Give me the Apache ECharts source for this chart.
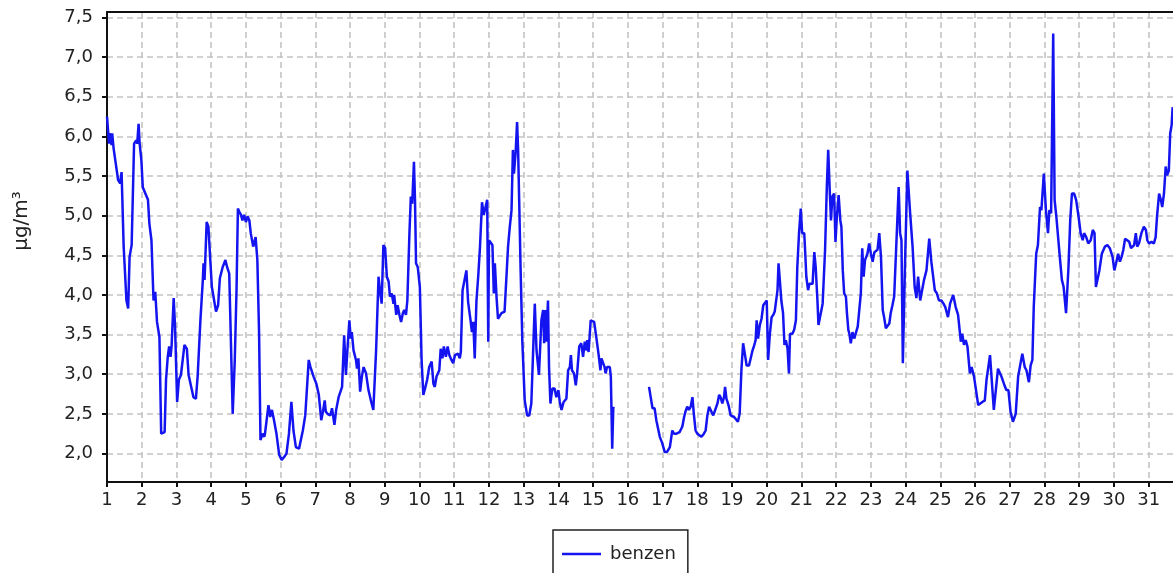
<!DOCTYPE html>
<html>
<head>
<meta charset="utf-8">
<script src="https://cdn.jsdelivr.net/npm/echarts@6/dist/echarts.min.js"></script>
<style>
  html, body { margin: 0; padding: 0; background: #fff; }
  #chart { width: 1173px; height: 573px; }
</style>
</head>
<body>
<div id="chart"></div>
<script>
// day of month (fractional) for each reading, and the benzene value there
const days = [
  1.00, 1.06, 1.11, 1.13, 1.15, 1.19, 1.22, 1.32, 1.38, 1.42, 1.44, 1.48, 1.56, 1.61, 1.65, 1.71, 1.78, 1.84, 1.87, 1.91,
  1.94, 1.99, 2.03, 2.08, 2.18, 2.22, 2.28, 2.34, 2.39, 2.44, 2.48, 2.51, 2.56, 2.61, 2.66, 2.70, 2.75, 2.79, 2.83, 2.86,
  2.92, 2.96, 3.02, 3.07, 3.13, 3.23, 3.30, 3.35, 3.39, 3.49, 3.56, 3.61, 3.69, 3.76, 3.78, 3.81, 3.87, 3.92, 3.98, 4.02,
  4.14, 4.20, 4.25, 4.33, 4.41, 4.46, 4.52, 4.62, 4.68, 4.73, 4.77, 4.81, 4.86, 4.90, 4.95, 5.00, 5.05, 5.10, 5.14, 5.21,
  5.28, 5.33, 5.38, 5.42, 5.48, 5.53, 5.55, 5.65, 5.70, 5.75, 5.81, 5.88, 5.96, 6.03, 6.11, 6.17, 6.24, 6.31, 6.37, 6.44,
  6.53, 6.57, 6.64, 6.71, 6.76, 6.81, 6.86, 6.90, 6.95, 7.00, 7.03, 7.10, 7.17, 7.22, 7.27, 7.30, 7.35, 7.43, 7.48, 7.55,
  7.60, 7.67, 7.77, 7.83, 7.88, 7.93, 7.98, 8.02, 8.05, 8.10, 8.17, 8.20, 8.24, 8.29, 8.34, 8.39, 8.46, 8.53, 8.61, 8.67,
  8.75, 8.82, 8.87, 8.91, 8.96, 9.01, 9.06, 9.11, 9.15, 9.20, 9.25, 9.27, 9.33, 9.37, 9.42, 9.47, 9.52, 9.56, 9.61, 9.65,
  9.71, 9.75, 9.79, 9.84, 9.87, 9.90, 9.95, 10.01, 10.06, 10.11, 10.16, 10.22, 10.28, 10.35, 10.40, 10.44, 10.49, 10.57, 10.61, 10.66,
  10.70, 10.76, 10.81, 10.86, 10.92, 10.97, 11.02, 11.07, 11.11, 11.16, 11.19, 11.24, 11.29, 11.35, 11.40, 11.47, 11.51, 11.55, 11.59, 11.64,
  11.69, 11.74, 11.80, 11.85, 11.90, 11.95, 11.98, 12.00, 12.05, 12.10, 12.14, 12.17, 12.20, 12.22, 12.26, 12.31, 12.36, 12.41, 12.45, 12.50,
  12.55, 12.60, 12.65, 12.69, 12.72, 12.77, 12.81, 12.84, 12.87, 12.91, 12.96, 13.03, 13.10, 13.16, 13.22, 13.27, 13.32, 13.37, 13.44, 13.51,
  13.56, 13.59, 13.63, 13.65, 13.70, 13.73, 13.77, 13.80, 13.83, 13.89, 13.94, 14.00, 14.04, 14.09, 14.15, 14.23, 14.28, 14.33, 14.36, 14.39,
  14.45, 14.50, 14.54, 14.60, 14.66, 14.71, 14.76, 14.81, 14.83, 14.87, 14.93, 14.98, 15.03, 15.09, 15.16, 15.21, 15.24, 15.29, 15.33, 15.36,
  15.40, 15.43, 15.48, 15.51, 15.55, 15.58, 15.59, 16.10, 16.61, 16.65, 16.71, 16.77, 16.82, 16.92, 16.99, 17.06, 17.13, 17.21, 17.28, 17.33,
  17.40, 17.49, 17.57, 17.62, 17.66, 17.71, 17.76, 17.81, 17.86, 17.90, 17.95, 18.00, 18.05, 18.12, 18.19, 18.24, 18.29, 18.34, 18.38, 18.46,
  18.51, 18.58, 18.63, 18.67, 18.72, 18.77, 18.80, 18.84, 18.87, 18.91, 18.96, 19.01, 19.06, 19.11, 19.17, 19.22, 19.27, 19.32, 19.35, 19.39,
  19.42, 19.49, 19.54, 19.59, 19.63, 19.68, 19.71, 19.75, 19.80, 19.85, 19.90, 19.95, 20.00, 20.04, 20.09, 20.14, 20.19, 20.23, 20.27, 20.31,
  20.34, 20.37, 20.42, 20.47, 20.51, 20.55, 20.60, 20.64, 20.67, 20.71, 20.74, 20.79, 20.84, 20.88, 20.93, 20.98, 21.02, 21.08, 21.11, 21.14,
  21.19, 21.23, 21.27, 21.32, 21.37, 21.41, 21.46, 21.49, 21.54, 21.61, 21.65, 21.68, 21.73, 21.77, 21.81, 21.85, 21.89, 21.94, 21.98, 22.02,
  22.07, 22.12, 22.15, 22.19, 22.23, 22.28, 22.31, 22.35, 22.38, 22.42, 22.47, 22.52, 22.57, 22.62, 22.66, 22.71, 22.75, 22.79, 22.83, 22.87,
  22.90, 22.95, 23.00, 23.05, 23.10, 23.14, 23.19, 23.24, 23.29, 23.34, 23.38, 23.43, 23.48, 23.53, 23.57, 23.62, 23.67, 23.72, 23.80, 23.84,
  23.88, 23.92, 23.98, 24.05, 24.13, 24.20, 24.26, 24.31, 24.36, 24.42, 24.47, 24.53, 24.60, 24.68, 24.74, 24.79, 24.84, 24.90, 24.96, 25.03,
  25.09, 25.14, 25.22, 25.28, 25.37, 25.44, 25.51, 25.59, 25.63, 25.68, 25.73, 25.78, 25.85, 25.90, 25.97, 26.09, 26.14, 26.21, 26.28, 26.33,
  26.43, 26.54, 26.66, 26.72, 26.76, 26.83, 26.90, 26.96, 27.02, 27.09, 27.17, 27.24, 27.29, 27.36, 27.43, 27.48, 27.55, 27.60, 27.65, 27.69,
  27.76, 27.81, 27.87, 27.91, 27.98, 28.04, 28.10, 28.14, 28.19, 28.25, 28.29, 28.34, 28.44, 28.50, 28.55, 28.62, 28.69, 28.74, 28.79, 28.85,
  28.91, 28.98, 29.04, 29.10, 29.14, 29.20, 29.26, 29.33, 29.39, 29.44, 29.48, 29.53, 29.58, 29.65, 29.69, 29.74, 29.81, 29.88, 29.96, 30.01,
  30.06, 30.12, 30.17, 30.22, 30.27, 30.32, 30.38, 30.44, 30.49, 30.53, 30.58, 30.63, 30.67, 30.72, 30.79, 30.86, 30.92, 30.96, 31.01, 31.08,
  31.15, 31.20, 31.24, 31.30, 31.35, 31.39, 31.44, 31.49, 31.53, 31.58, 31.62, 31.66, 31.69
];

const benzen = [
  6.25, 5.91, 6.04, 5.89, 6.04, 5.85, 5.83, 5.45, 5.41, 5.55, 5.53, 4.61, 3.93, 3.83, 4.48, 4.63, 5.91, 5.95, 5.91, 6.16,
  5.91, 5.70, 5.36, 5.34, 5.20, 4.90, 4.69, 3.93, 4.04, 3.66, 3.64, 3.47, 2.25, 2.25, 2.27, 2.93, 3.22, 3.35, 3.22, 3.35,
  3.96, 3.60, 2.65, 2.93, 2.99, 3.37, 3.32, 2.99, 2.97, 2.71, 2.69, 2.97, 3.68, 4.19, 4.40, 4.19, 4.92, 4.86, 4.40, 4.10,
  3.79, 3.87, 4.21, 4.35, 4.44, 4.35, 4.27, 2.50, 3.18, 4.06, 5.09, 5.05, 5.01, 4.94, 5.01, 4.92, 4.99, 4.94, 4.78, 4.61,
  4.73, 4.44, 3.51, 2.17, 2.25, 2.21, 2.25, 2.61, 2.46, 2.55, 2.42, 2.25, 1.98, 1.92, 1.96, 2.00, 2.25, 2.65, 2.29, 2.08,
  2.06, 2.04, 2.29, 2.48, 2.48, 3.18, 3.09, 3.11, 2.97, 2.99, 2.88, 2.74, 2.42, 2.53, 2.67, 2.53, 2.50, 2.48, 2.57, 2.36,
  2.55, 2.71, 2.84, 3.49, 2.99, 3.35, 3.68, 3.45, 3.53, 3.30, 3.18, 3.07, 3.20, 2.78, 2.97, 3.09, 3.01, 2.80, 2.65, 2.55,
  3.30, 4.23, 4.02, 3.89, 4.63, 4.59, 4.23, 4.17, 3.98, 4.02, 3.89, 4.00, 3.75, 3.87, 3.75, 3.66, 3.77, 3.81, 3.75, 3.93,
  4.78, 5.24, 5.15, 5.68, 5.20, 4.40, 4.35, 4.10, 3.18, 2.74, 2.82, 2.93, 3.09, 3.16, 2.88, 2.84, 2.97, 3.05, 3.32, 3.20,
  3.35, 3.22, 3.35, 3.24, 3.18, 3.14, 3.24, 3.22, 3.26, 3.20, 3.28, 4.06, 4.08, 4.31, 3.91, 3.68, 3.53, 3.66, 3.20, 3.93,
  4.23, 4.59, 5.17, 5.01, 5.03, 5.20, 3.41, 4.69, 4.69, 4.63, 4.02, 4.40, 4.38, 3.96, 3.70, 3.72, 3.77, 3.75, 3.79, 3.81,
  4.61, 4.86, 5.07, 5.83, 5.53, 5.81, 6.18, 5.83, 5.20, 4.35, 3.43, 2.67, 2.48, 2.48, 2.63, 3.26, 3.89, 3.30, 2.99, 3.68,
  3.81, 3.39, 3.81, 3.41, 3.93, 3.09, 2.63, 2.74, 2.82, 2.82, 2.71, 2.80, 2.65, 2.55, 2.65, 2.69, 3.05, 3.09, 3.24, 3.05,
  3.01, 2.86, 3.01, 3.35, 3.39, 3.22, 3.41, 3.30, 3.43, 3.28, 3.68, 3.70, 3.66, 3.47, 3.24, 3.05, 3.20, 3.22, 3.09, 3.01,
  3.09, 3.07, 3.09, 2.97, 2.06, 2.57, 2.59, null, 2.84, 2.86, 2.57, 2.57, 2.42, 2.21, 2.13, 2.02, 2.02, 2.08, 2.29, 2.25,
  2.25, 2.27, 2.34, 2.46, 2.53, 2.59, 2.55, 2.59, 2.71, 2.50, 2.29, 2.25, 2.23, 2.21, 2.25, 2.29, 2.48, 2.59, 2.59, 2.48,
  2.48, 2.63, 2.74, 2.71, 2.63, 2.71, 2.84, 2.69, 2.65, 2.59, 2.48, 2.46, 2.46, 2.44, 2.40, 2.50, 3.05, 3.39, 3.41, 3.20,
  3.11, 3.11, 3.09, 3.30, 3.35, 3.43, 3.68, 3.45, 3.62, 3.70, 3.87, 3.89, 3.93, 3.18, 3.51, 3.72, 3.75, 3.79, 3.81, 4.06,
  4.40, 4.23, 3.93, 3.77, 3.37, 3.43, 3.32, 3.01, 3.51, 3.49, 3.51, 3.56, 3.68, 4.35, 4.78, 5.09, 4.78, 4.78, 4.52, 4.23,
  4.06, 4.14, 4.12, 4.14, 4.54, 4.35, 3.93, 3.62, 3.60, 3.89, 3.91, 4.57, 5.36, 5.83, 5.36, 4.94, 5.24, 5.28, 4.67, 4.99,
  5.26, 4.94, 4.86, 4.31, 4.02, 3.98, 3.77, 3.56, 3.51, 3.39, 3.53, 3.45, 3.43, 3.60, 3.60, 4.02, 4.59, 4.23, 4.44, 4.44,
  4.52, 4.65, 4.52, 4.42, 4.54, 4.54, 4.57, 4.78, 4.48, 3.81, 3.72, 3.58, 3.56, 3.64, 3.77, 3.87, 3.98, 4.00, 5.36, 4.78,
  4.69, 3.14, 4.35, 5.57, 5.03, 4.61, 4.10, 3.96, 4.23, 3.93, 3.93, 4.19, 4.31, 4.71, 4.42, 4.40, 4.06, 4.02, 3.93, 3.93,
  3.89, 3.85, 3.72, 3.89, 4.00, 3.85, 3.75, 3.41, 3.51, 3.37, 3.43, 3.35, 3.01, 3.09, 2.97, 2.61, 2.63, 2.65, 2.67, 2.93,
  3.24, 2.55, 3.07, 3.01, 2.97, 2.88, 2.80, 2.80, 2.53, 2.40, 2.50, 2.97, 2.99, 3.26, 3.09, 3.05, 2.90, 3.11, 3.18, 3.85,
  4.52, 4.63, 5.11, 5.07, 5.53, 5.07, 4.78, 5.07, 5.03, 7.30, 5.20, 4.99, 4.48, 4.19, 4.10, 3.77, 4.35, 4.94, 5.28, 5.28,
  5.20, 4.99, 4.78, 4.69, 4.78, 4.73, 4.65, 4.69, 4.82, 4.78, 4.10, 4.12, 4.31, 4.52, 4.54, 4.61, 4.63, 4.59, 4.48, 4.31,
  4.40, 4.52, 4.42, 4.48, 4.57, 4.71, 4.69, 4.67, 4.59, 4.61, 4.63, 4.78, 4.61, 4.65, 4.78, 4.86, 4.82, 4.69, 4.65, 4.67,
  4.65, 4.73, 4.99, 5.28, 5.20, 5.11, 5.28, 5.62, 5.51, 5.57, 6.04, 6.14, 6.37
];

const dayTicks = [];
for (let d = 1; d <= 31; d++) dayTicks.push(d);
const valueTicks = [2.0, 2.5, 3.0, 3.5, 4.0, 4.5, 5.0, 5.5, 6.0, 6.5, 7.0, 7.5];

const chart = echarts.init(document.getElementById('chart'));

const axisText = { color: '#222', fontSize: 18, fontFamily: 'DejaVu Sans' };
const gridLine = { show: true, lineStyle: { color: '#c4c4c4', width: 1.6, type: [6, 4] } };

chart.setOption({
  animation: false,
  textStyle: { fontFamily: 'DejaVu Sans' },
  grid: { left: 107, right: 0, top: 12, bottom: 91 },
  graphic: [{
    type: 'text',
    x: 22,
    y: 221,
    rotation: Math.PI / 2,
    style: {
      text: 'µg/m³',
      fill: '#222',
      font: '20px "DejaVu Sans"',
      align: 'center',
      verticalAlign: 'middle'
    }
  }],
  legend: {
    left: 553,
    top: 530,
    data: [{ name: 'benzen', icon: 'rect' }],
    borderColor: '#222',
    borderWidth: 1.5,
    padding: [15, 12, 18, 9],
    itemWidth: 39,
    itemHeight: 2.5,
    textStyle: { color: '#222', fontSize: 18, fontFamily: 'DejaVu Sans', padding: [0, 0, 0, 4] }
  },
  xAxis: [{
    type: 'value',
    min: 1,
    max: 31.7,
    axisLine: { show: true, onZero: false, lineStyle: { color: '#111', width: 2 } },
    axisTick: { show: true, length: 5, customValues: dayTicks, lineStyle: { color: '#111', width: 2 } },
    axisLabel: Object.assign({ margin: 9, customValues: dayTicks }, axisText),
    splitLine: gridLine
  }, {
    type: 'value',
    position: 'top',
    min: 1,
    max: 31.7,
    axisLine: { show: true, onZero: false, lineStyle: { color: '#111', width: 2 } },
    axisTick: { show: false },
    axisLabel: { show: false },
    splitLine: { show: false }
  }],
  yAxis: {
    type: 'value',
    min: 1.64,
    max: 7.57,
    axisLine: { show: true, lineStyle: { color: '#111', width: 2 } },
    axisTick: { show: true, length: 5, customValues: valueTicks, lineStyle: { color: '#111', width: 2 } },
    axisLabel: Object.assign({
      margin: 14,
      customValues: valueTicks,
      formatter: v => v.toFixed(1).replace('.', ',')
    }, axisText),
    splitLine: gridLine
  },
  series: [{
    name: 'benzen',
    type: 'line',
    symbol: 'none',
    connectNulls: false,
    data: days.map((d, i) => [d, benzen[i]]),
    lineStyle: { color: '#1414f0', width: 2.5 },
    itemStyle: { color: '#1414f0' }
  }]
});
</script>
</body>
</html>
